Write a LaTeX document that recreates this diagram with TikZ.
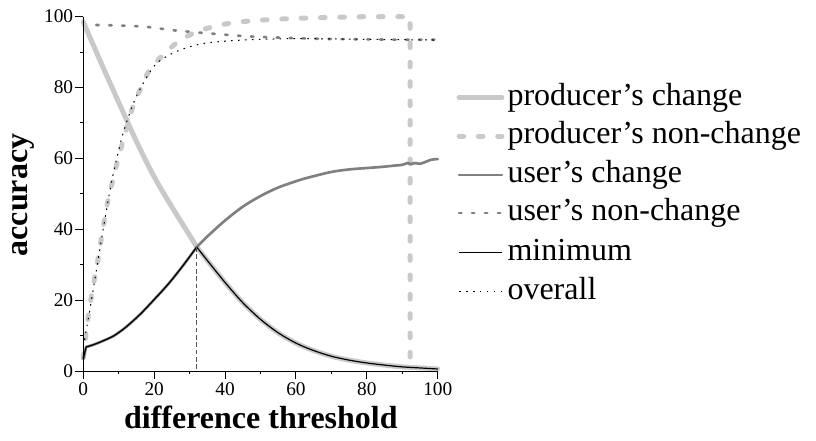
\documentclass[tikz,border=0pt]{standalone}
\usepackage{fontspec}
\setmainfont{Liberation Serif}
\usetikzlibrary{arrows}

\definecolor{pcgray}{gray}{0.79}
\definecolor{ucgray}{gray}{0.50}
\definecolor{mingray}{gray}{0.33}

% accuracy curves, split at the crossing (32,35)
\newcommand\prodchangeleft{plot[smooth] coordinates {(0,98.5) (5,87) (10,75.8) (15,64.8) (20,54.8) (25,46.3) (30,38.3) (32,35)}}
\newcommand\prodchangeright{plot[smooth] coordinates {(32,35) (35,31.2) (40,25) (45,19.3) (50,14.6) (55,10.8) (60,7.9) (65,5.8) (70,4.2) (75,3.1) (80,2.3) (85,1.7) (90,1.2) (95,0.9) (100,0.6)}}
\newcommand\userchangeleft{(0,3.5) -- plot[smooth] coordinates {(0.8,6.8) (3,7.5) (5,8.3) (8.5,9.9) (12,12.4) (16,16) (20,20.2) (24,24.6) (28,29.6) (32,35)}}
\newcommand\userchangeright{plot[smooth] coordinates {(32,35) (35,38) (40,42.5) (45,46.4) (50,49.4) (55,51.8) (61,53.9) (65,55) (70,56.2) (75,56.9) (80,57.3) (84,57.6) (88,58) (90,58.2) (91.5,58.7) (92.5,58.4) (93.5,58.7) (95,58.5) (96.5,59) (98,59.6) (99.5,59.8) (100,59.8)}}

\begin{document}
\begin{tikzpicture}[x=2.658pt,y=2.658pt,
  prodchange/.style={line width=3.75pt,pcgray,line cap=round},
  prodnon/.style={line width=3.75pt,pcgray,line cap=round,dash pattern=on 3.5pt off 11pt},
  userchange/.style={line width=2pt,ucgray,line cap=round},
  usernon/.style={line width=2pt,ucgray,line cap=round,dash pattern=on 1.8pt off 7.9pt},
  minline/.style={line width=0.9pt,black},
  overall/.style={line width=0.75pt,black,dash pattern=on 1.2pt off 4pt},
  axisline/.style={line width=0.75pt,black},
  ticklabel/.style={font=\fontsize{14.5}{17}\selectfont,inner sep=0pt},
  axislabel/.style={font=\fontsize{24}{28}\selectfont\bfseries,inner sep=0pt,anchor=base},
  legend/.style={font=\fontsize{24}{28}\selectfont,inner sep=0pt,anchor=base west}]
  \useasboundingbox (-23.5,-19.47) rectangle (206.7,104.7);

  % curves
  \draw[usernon] plot[smooth] coordinates {(0,97.7) (10,97.5) (17,97.2) (22,96.6) (27,96) (34,95.4) (40,94.9) (47,94.4) (55,94.1) (61,93.9) (70,93.7) (80,93.6) (90,93.5) (100,93.5)};
  \draw[prodchange] \prodchangeleft \prodchangeright;
  \draw[prodnon] plot[smooth] coordinates {(0,3.7) (1.3,14.9) (2.7,23.5) (4.1,31.3) (5.5,40) (7,48.3) (9.6,59) (12,67.8) (14,74.6) (16.4,80.2) (18.7,85) (22.5,89.2) (26.7,92.9) (31.4,95.5) (36,97) (42.3,98.3) (50,99) (59.3,99.5) (70,99.8) (80,100)} -- (92.2,100) -- (92.2,0.5);
  \draw[userchange] \userchangeleft \userchangeright;
  \draw[minline] \userchangeleft \prodchangeright;
  \draw[overall] plot[smooth] coordinates {(0,6.9) (2.3,20) (5.1,37) (7.9,53) (10.7,65.2) (13,72.5) (15.4,78.4) (20.1,86.2) (25,89.6) (30,91.5) (35,92.6) (45,93.4) (60,93.8) (80,93.6) (100,93.4)};

  % threshold of the crossing
  \coordinate (cross) at (32,35);
  \coordinate (crossfoot) at (32,0);
  \draw[line width=0.75pt,mingray,dash pattern=on 3.5pt off 2pt] (cross) -- (crossfoot);

  % axes
  \draw[axisline] (0,100) -- (0,0) -- (100,0);
  \foreach \v in {0,20,...,100} {
    \draw[axisline] (\v,0) -- (\v,-2.3);
    \draw[axisline] (0,\v) -- (-2.3,\v);
    \node (xt\v) [ticklabel,anchor=base] at (\v,-6.8) {\v};
    \node (yt\v) [ticklabel,anchor=east] at (-2.8,\v) {\v};
  }
  \foreach \v in {10,30,...,90} {
    \draw[axisline] (\v,0) -- (\v,-0.8);
    \draw[axisline] (0,\v) -- (-0.8,\v);
  }
  \node (xlab) [axislabel] at (50.1,-16.1) {difference threshold};
  \node (ylab) [axislabel,rotate=90] at (-15.7,49.7) {accuracy};

  % legend
  \draw[prodchange] (106,77.2) -- (118.1,77.2);
  \draw[prodnon] (106,66.3) -- (118.1,66.3);
  \draw[userchange] (106,55.3) -- (118.1,55.3);
  \draw[usernon] (106,44.6) -- (118.1,44.6);
  \draw[minline] (106,33.4) -- (118.1,33.4);
  \draw[overall] (106,22.4) -- (118.1,22.4);
  \node (lpc) [legend] at (119.6,75.0) {producer's change};
  \node (lpn) [legend] at (119.6,64.1) {producer's non-change};
  \node (luc) [legend] at (119.6,53.1) {user's change};
  \node (lun) [legend] at (119.6,42.4) {user's non-change};
  \node (lmin) [legend] at (119.6,31.2) {minimum};
  \node (lall) [legend] at (119.6,20.2) {overall};
\end{tikzpicture}
\end{document}
